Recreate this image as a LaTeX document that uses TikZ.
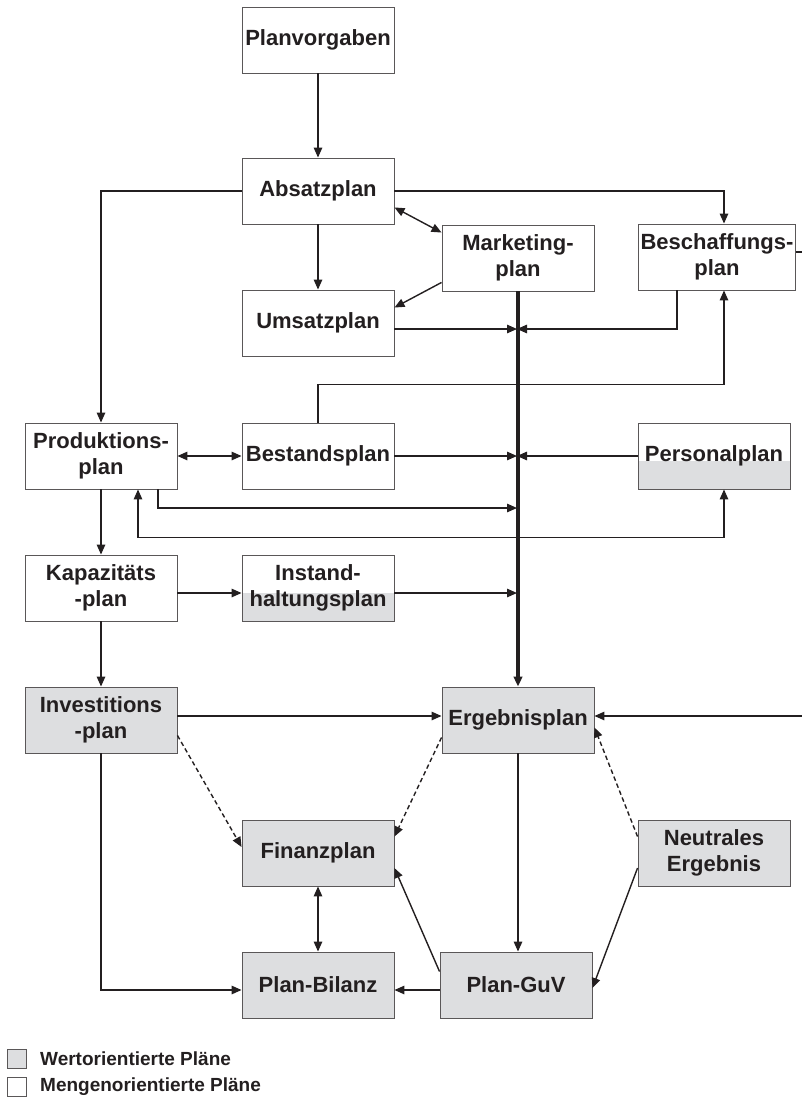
\documentclass[tikz,border=0pt]{standalone}
\usepackage{fontspec}
\setmainfont{Liberation Sans}
\usetikzlibrary{arrows.meta}
\definecolor{wertgrau}{RGB}{221,222,224}
\definecolor{tinte}{RGB}{35,31,32}

\begin{document}
\begin{tikzpicture}[x=1pt,y=-1pt,>={Triangle[length=10pt,width=8.5pt]},
  plan/.style={draw=tinte!75,line width=0.9pt,minimum width=152pt,minimum height=66pt,
    inner sep=0pt,align=center,text=tinte,font=\bfseries\fontsize{22}{26}\selectfont},
  wert/.style={plan,fill=wertgrau},
  teilwert/.style={plan,path picture={\fill[wertgrau]
    ([yshift=-5pt]path picture bounding box.west) rectangle (path picture bounding box.south east);}},
  pfeil/.style={tinte,line width=1.4pt},
  strich/.style={pfeil,dash pattern=on 4.5pt off 3pt},
  bus/.style={tinte,line width=3.2pt},
  legende/.style={anchor=west,inner sep=0pt,text=tinte,font=\bfseries\fontsize{19}{21}\selectfont}]
  \useasboundingbox (0,0) rectangle (802,1097);

  % Mengenplaene
  \node[plan] (plv) at (318,40) {Planvorgaben};
  \node[plan] (abs) at (318,191) {Absatzplan};
  \node[plan] (mkt) at (518,258) {Marketing-\\plan};
  \node[plan,minimum width=157pt] (bes) at (717,257) {Beschaffungs-\\plan};
  \node[plan] (ums) at (318,323) {Umsatzplan};
  \node[plan] (prod) at (101,456) {Produktions-\\plan};
  \node[plan] (best) at (318,456) {Bestandsplan};
  \node[teilwert] (pers) at (714,456) {Personalplan};
  \node[plan] (kap) at (101,588) {Kapazitäts\\-plan};
  \node[teilwert] (inst) at (318,588) {Instand-\\haltungsplan};

  % Wertplaene
  \node[wert] (inv) at (101,720) {Investitions\\-plan};
  \node[wert] (erg) at (518,720) {Ergebnisplan};
  \node[wert] (neu) at (714,853) {Neutrales\\Ergebnis};
  \node[wert] (fin) at (318,853) {Finanzplan};
  \node[wert] (bil) at (318,985) {Plan-Bilanz};
  \node[wert] (guv) at (516,985) {Plan-GuV};

  % Sammelschiene
  \coordinate (jU) at (517,329);
  \coordinate (jB) at (517,456);
  \coordinate (jP) at (517,508);
  \coordinate (jI) at (517,593);
  \coordinate (rA) at (802,252);
  \coordinate (rB) at (802,716);
  \draw[bus,->] (mkt.south) -- (erg.north);

  \path[pfeil,->]
    (plv) edge (abs)
    (abs) edge (ums)
    ([yshift=9pt]mkt.south west) edge ([yshift=-18pt]ums.north east)
    ([yshift=-6pt]ums.east) edge (jU)
    (best) edge (jB)
    (pers) edge (jB)
    (prod) edge (kap)
    ([yshift=-5pt]kap.east) edge ([yshift=-5pt]inst.west)
    ([yshift=-5pt]inst.east) edge (jI)
    (kap) edge (inv)
    ([yshift=4pt]inv.east) edge ([yshift=4pt]erg.west)
    (rB) edge ([yshift=4pt]erg.east)
    (erg.south) edge (erg.south |- guv.north)
    ([yshift=-15pt]neu.west) edge ([yshift=-3pt]guv.east)
    ([yshift=-20pt]guv.north west) edge ([yshift=-15pt]fin.east)
    ([yshift=-5pt]guv.west) edge ([yshift=-5pt]bil.east);
  \path[pfeil,<->]
    ([yshift=17pt]abs.south east) edge ([yshift=-8pt]mkt.north west)
    (prod) edge (best)
    (fin) edge (bil);
  \path[strich,->]
    ([yshift=18pt]inv.south east) edge ([yshift=6pt]fin.west)
    ([yshift=16pt]erg.south west) edge ([yshift=-17pt]fin.north east)
    ([yshift=-17pt]neu.north west) edge ([yshift=26pt]erg.south east);

  \draw[pfeil,->] (abs.west) -| (prod.north);
  \draw[pfeil,->] (abs.east) -| ([xshift=7pt]bes.north);
  \draw[pfeil,->] ([xshift=-40pt]bes.south) |- (jU);
  \draw[pfeil,->] (best.north) -- ++(0,-38) -| ([xshift=7pt]bes.south);
  \draw[pfeil,->] ([xshift=57pt]prod.south) |- (jP);
  \draw[pfeil,<->] ([xshift=37pt]prod.south) -- ++(0,48) -| ([xshift=10pt]pers.south);
  \draw[pfeil,->] (inv.south) |- ([yshift=-5pt]bil.west);
  \draw[pfeil] ([yshift=5pt]bes.east) -- (rA);

  % Legende
  \node[wert,minimum width=19pt,minimum height=19pt] (lgw) at (16.5,1059) {};
  \node[plan,minimum width=19pt,minimum height=19pt] (lgm) at (16.5,1087) {};
  \node[legende] (lgwt) at (40,1059) {Wertorientierte Pläne};
  \node[legende] (lgmt) at (40,1087) {Mengenorientierte Pläne};
\end{tikzpicture}
\end{document}
